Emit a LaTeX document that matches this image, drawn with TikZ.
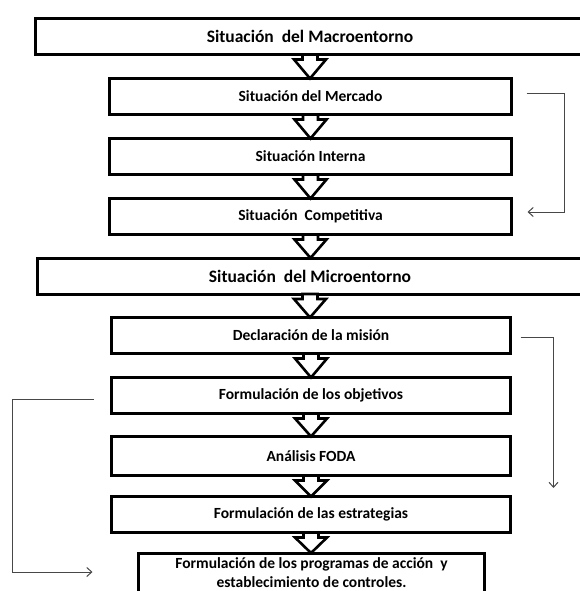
\documentclass[tikz,border=0pt]{standalone}
\usepackage{fontspec}
\setmainfont{Carlito}
\usetikzlibrary{arrows.meta,calc,shadows}
\tikzset{
  stagebox/.style={draw=black, line width=3pt, fill=white, inner sep=0pt, outer sep=0pt,
    minimum height=36pt, align=center, line join=miter,
    font=\bfseries\fontsize{15.5}{20}\selectfont,
    drop shadow={shadow xshift=1pt, shadow yshift=-1.5pt, opacity=0.3, fill=black}},
  bigbox/.style={stagebox, font=\bfseries\fontsize{17.5}{20}\selectfont},
  barrow/.style={draw=black, fill=white, line width=2.6pt, line join=miter},
  conn/.style={draw=black!72, line width=1pt, -{Straight Barb[length=5pt,width=9pt,line width=1pt]}}
}
\newcommand\blockarrow[2]{%
  \draw[barrow] ($(#1.south)+(-7.5,0)$) -- ++(0,5) -- ++(-8.5,0) -- (#1.south |- #2.north)
    -- ($(#1.south)+(16,5)$) -- ++(-8.5,0) -- ++(0,-5) -- cycle;}
\begin{document}
\begin{tikzpicture}[x=1pt,y=-1pt]
\useasboundingbox (0,0) rectangle (580,591);
\clip (0,0) rectangle (580,591);
\fill[white] (0,0) rectangle (580,591);

\node[bigbox, minimum width=549pt] (macro) at (310,36.5) {Situación~~del Macroentorno};
\node[stagebox, minimum width=402pt] (mercado) at (310.5,96.5) {Situación del~Mercado};
\node[stagebox, minimum width=402pt] (interna) at (310.5,156.5) {Situación Interna};
\node[stagebox, minimum width=402pt] (competitiva) at (310.5,216.5) {Situación~~Competitiva};
\node[bigbox, minimum width=545pt] (micro) at (310,276) {Situación~~del Microentorno};
\node[stagebox, minimum width=399pt] (mision) at (311,335.5) {Declaración de la misión};
\node[stagebox, minimum width=399pt] (objetivos) at (311,395.5) {Formulación de los objetivos};
\node[stagebox, minimum width=399pt, minimum height=39pt] (foda) at (311,456) {Análisis FODA};
\node[stagebox, minimum width=399pt] (estrategias) at (311,514.5) {Formulación de las estrategias};
\node[stagebox, minimum width=346pt, minimum height=40pt, font=\bfseries\fontsize{15.5}{19}\selectfont] (programas) at (311.5,573)
  {Formulación de los programas de acción~~y\\establecimiento de controles.};

\blockarrow{macro}{mercado}
\blockarrow{mercado}{interna}
\blockarrow{interna}{competitiva}
\blockarrow{competitiva}{micro}
\blockarrow{micro}{mision}
\blockarrow{mision}{objetivos}
\blockarrow{objetivos}{foda}
\blockarrow{foda}{estrategias}
\blockarrow{estrategias}{programas}

\coordinate (misionend) at (553.5,488);
\draw[conn] ([xshift=15pt,yshift=2.5pt]mercado.east) -- ++(38,0)
  |- ([xshift=16pt,yshift=4.5pt]competitiva.east);
\draw[conn] ([xshift=10pt,yshift=-1.5pt]mision.east) -| (misionend);
\draw[conn] ([xshift=-18pt,yshift=-3.5pt]objetivos.west) -- ++(-81,0)
  |- ([xshift=-46pt,yshift=1pt]programas.west);
\end{tikzpicture}
\end{document}
